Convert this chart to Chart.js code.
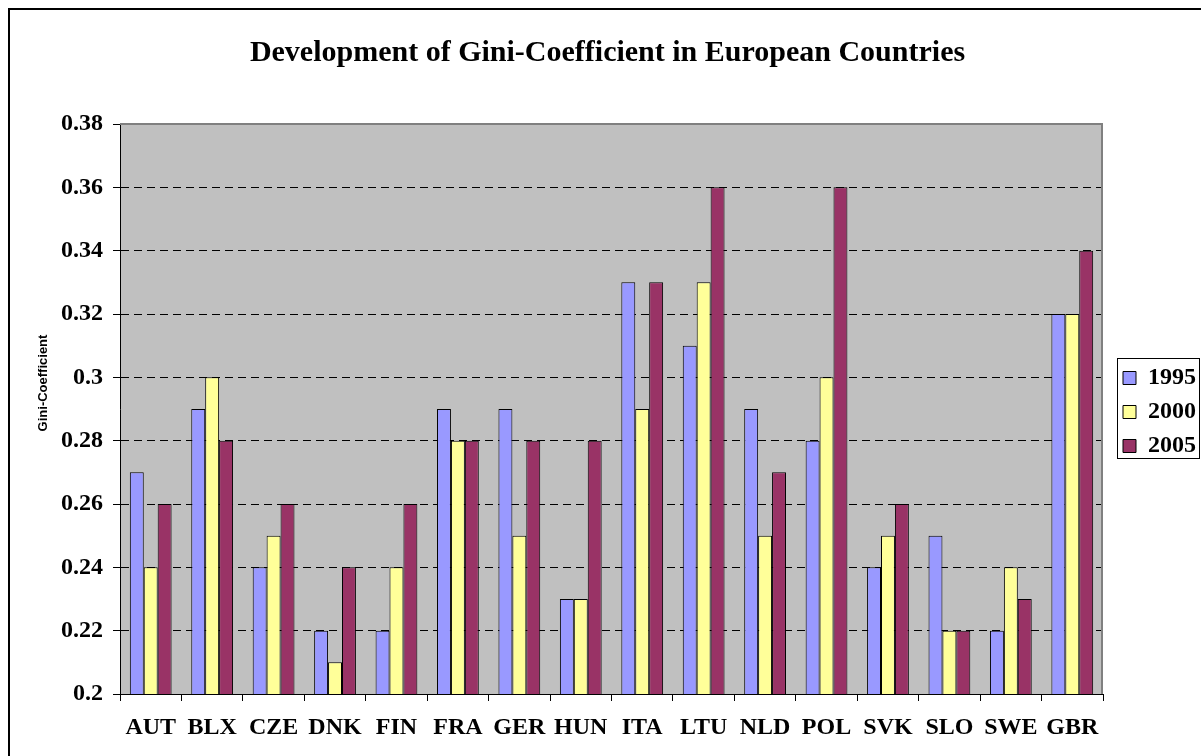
<!DOCTYPE html>
<html>
<head>
<meta charset="utf-8">
<script src="https://cdn.jsdelivr.net/npm/chart.js@4.4.0/dist/chart.umd.min.js"></script>
<style>
  html, body { margin: 0; padding: 0; background: #fff; }
  #wrap { width: 1201px; height: 756px; }
</style>
</head>
<body>
<div id="wrap"><canvas id="chart" width="1201" height="756"></canvas></div>
<script>
// data
const countries = ['AUT', 'BLX', 'CZE', 'DNK', 'FIN', 'FRA', 'GER', 'HUN', 'ITA', 'LTU', 'NLD', 'POL', 'SVK', 'SLO', 'SWE', 'GBR'];
const years = ['1995', '2000', '2005'];
const gini1995 = [0.27, 0.29, 0.24, 0.22, 0.22, 0.29, 0.29, 0.23, 0.33, 0.31, 0.29, 0.28, 0.24, 0.25, 0.22, 0.32];
const gini2000 = [0.24, 0.30, 0.25, 0.21, 0.24, 0.28, 0.25, 0.23, 0.29, 0.33, 0.25, 0.30, 0.25, 0.22, 0.24, 0.32];
const gini2005 = [0.26, 0.28, 0.26, 0.24, 0.26, 0.28, 0.28, 0.28, 0.33, 0.36, 0.27, 0.36, 0.26, 0.22, 0.23, 0.34];
const yMin = 0.2, yMax = 0.38, yStep = 0.02;

const colors = ['#9999FF', '#FFFF99', '#993366'];
const serifBold = { family: 'Liberation Serif', size: 24, weight: 'bold' };

Chart.defaults.color = '#000';

// grey plot area, frame, legend box and rotated axis title
const decor = {
  id: 'decor',
  afterInit(chart) {
    const lg = chart.legend;
    const fit = lg.fit;
    lg.fit = function() { fit.call(this); this.width = 98; };
  },
  afterLayout(chart) {
    const lg = chart.legend, a = chart.chartArea;
    lg.left += 10;
    lg.right += 10;
    lg.top = a.top + 6;
    lg.bottom = a.bottom;
    lg.height = lg.bottom - lg.top;
  },
  beforeDraw(chart) {
    const { ctx, chartArea: a } = chart;
    ctx.save();
    ctx.fillStyle = '#fff';
    ctx.fillRect(0, 0, chart.width, chart.height);
    ctx.fillStyle = '#C0C0C0';
    ctx.fillRect(a.left, a.top, a.right - a.left, a.bottom - a.top);
    ctx.restore();
  },
  afterDraw(chart) {
    const { ctx, chartArea: a } = chart;
    ctx.save();
    // plot border top + right
    ctx.strokeStyle = '#808080';
    ctx.lineWidth = 2;
    ctx.beginPath();
    ctx.moveTo(a.left, a.top);
    ctx.lineTo(a.right - 1, a.top);
    ctx.lineTo(a.right - 1, a.bottom);
    ctx.stroke();
    // outer frame
    ctx.strokeStyle = '#000';
    ctx.lineWidth = 2;
    ctx.strokeRect(9, 9, 1300, 1000);
    // legend frame
    const lg = chart.legend;
    const mid = (a.top + a.bottom) / 2;
    ctx.lineWidth = 1;
    ctx.strokeRect(lg.left + 4.5, mid - 50.5, 82, 100);
    // y axis title
    ctx.translate(43, 383);
    ctx.rotate(-Math.PI / 2);
    ctx.fillStyle = '#000';
    ctx.font = 'bold 13px "Liberation Sans"';
    ctx.textAlign = 'center';
    ctx.textBaseline = 'middle';
    ctx.fillText('Gini-Coefficient', 0, 0);
    ctx.restore();
  }
};

const ctx = document.getElementById('chart').getContext('2d');
new Chart(ctx, {
  type: 'bar',
  data: {
    labels: countries,
    datasets: [gini1995, gini2000, gini2005].map((vals, i) => ({
      label: years[i],
      data: vals,
      backgroundColor: colors[i],
      borderColor: '#000',
      borderWidth: 1,
      categoryPercentage: 0.68,
      barPercentage: 1
    }))
  },
  options: {
    responsive: false,
    animation: false,
    layout: { padding: { left: 14, right: 0, top: 20, bottom: 0 } },
    plugins: {
      title: {
        display: true,
        text: 'Development of Gini-Coefficient in European Countries',
        color: '#000',
        font: { family: 'Liberation Serif', size: 30, weight: 'bold' },
        padding: { top: 15, bottom: 53 }
      },
      legend: {
        position: 'right',
        align: 'center',
        labels: { boxWidth: 13, boxHeight: 13, padding: 10, color: '#000', font: serifBold }
      },
      tooltip: { enabled: false }
    },
    scales: {
      x: {
        offset: true,
        grid: { offset: true, drawOnChartArea: false, color: '#000', tickLength: 7 },
        border: { color: '#000' },
        ticks: { color: '#000', font: serifBold, padding: 12, maxRotation: 0, autoSkip: false },
        afterFit: s => { s.height = 62; }
      },
      y: {
        min: yMin,
        max: yMax,
        ticks: {
          stepSize: yStep,
          color: '#000',
          font: serifBold,
          padding: 10,
          callback: v => String(Math.round(v * 100) / 100)
        },
        grid: {
          color: c => (c.index === 0 || c.tick.value > yMax - 0.001) ? 'rgba(0,0,0,0)' : '#000',
          tickColor: '#000',
          tickLength: 7
        },
        border: { color: '#000', width: 1, dash: [8, 5] },
        afterFit: s => { s.width = 106; }
      }
    }
  },
  plugins: [decor]
});
</script>
</body>
</html>
